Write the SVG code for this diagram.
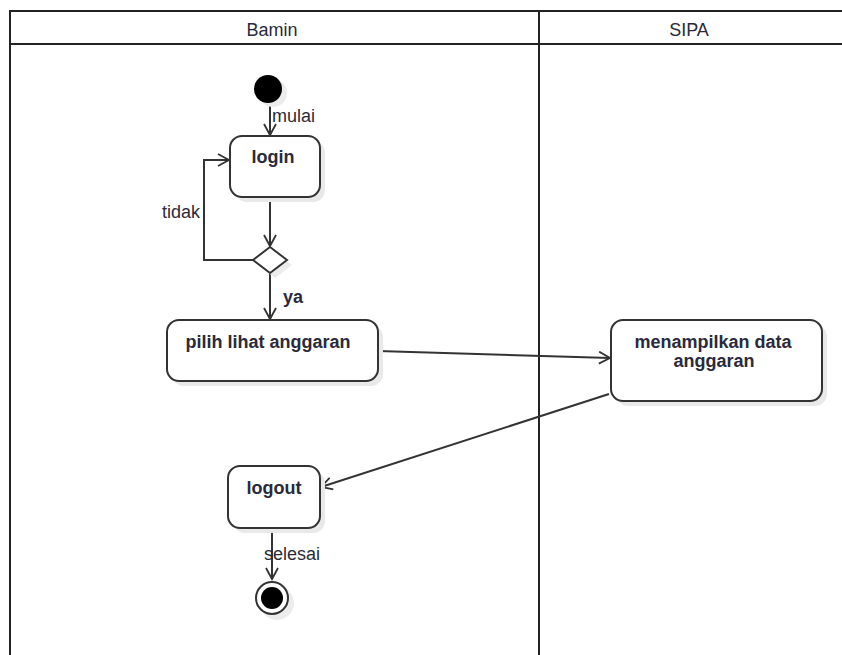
<svg xmlns="http://www.w3.org/2000/svg" width="842" height="655" viewBox="0 0 842 655">
<style>
.lane{fill:none;stroke:#222;stroke-width:2}
.box{fill:#fff;stroke:#333;stroke-width:2}
.sh{fill:#e9e9e9}
.t{font-family:"Liberation Sans",Arial,sans-serif;font-size:18px;fill:#2a2a3a}
.b{font-weight:bold}
.c{fill:none;stroke:#333;stroke-width:2}
.lbl{font-family:"Liberation Sans",Arial,sans-serif;font-size:18px;fill:#2a2a3a}
</style>
<defs>
<marker id="arr" markerWidth="14" markerHeight="14" refX="12" refY="7" orient="auto" markerUnits="userSpaceOnUse">
<path d="M1,1 L12,7 L1,13" fill="none" stroke="#333" stroke-width="1.8"/>
</marker>
</defs>
<rect width="842" height="655" fill="#fff"/>
<g id="swimlanes">
<rect class="lane" x="10" y="11" width="840" height="660"/>
<line class="lane" x1="10" y1="44" x2="842" y2="44"/>
<line class="lane" x1="539" y1="11" x2="539" y2="655"/>
<text class="t" x="272" y="36" text-anchor="middle">Bamin</text>
<text class="t" x="689" y="36" text-anchor="middle">SIPA</text>
</g>
<g id="connectors">
<line class="c" x1="270" y1="103" x2="270" y2="135" marker-end="url(#arr)"/>
<text class="lbl" x="272" y="122">mulai</text>
<line class="c" x1="270" y1="197" x2="270" y2="246" marker-end="url(#arr)"/>
<polyline class="c" points="253,260 204,260 204,160 229,160" marker-end="url(#arr)"/>
<text class="lbl" x="162" y="218">tidak</text>
<line class="c" x1="270" y1="273" x2="270" y2="319" marker-end="url(#arr)"/>
<text class="lbl" x="283" y="303" font-weight="bold">ya</text>
<line class="c" x1="378" y1="351" x2="610" y2="358" marker-end="url(#arr)"/>
<line class="c" x1="609" y1="394" x2="321" y2="487" marker-end="url(#arr)"/>
<line class="c" x1="272" y1="528" x2="272" y2="579" marker-end="url(#arr)"/>
<text class="lbl" x="264" y="560">selesai</text>
</g>
<g id="start">
<circle cx="273" cy="93" r="14" fill="#ececec"/>
<circle cx="268" cy="89" r="14" fill="#000"/>
</g>
<g id="login">
<rect class="sh" x="235" y="141" width="90" height="61" rx="12"/>
<rect class="box" x="230" y="136" width="90" height="61" rx="12"/>
<text class="t b" x="273" y="163" text-anchor="middle">login</text>
</g>
<g id="decision">
<polygon points="275,252 292,265 275,278 258,265" fill="#ececec"/>
<polygon points="270,247 287,260 270,273 253,260" fill="#fff" stroke="#333" stroke-width="2"/>
</g>
<g id="pilih">
<rect class="sh" x="172" y="325" width="211" height="61" rx="12"/>
<rect class="box" x="167" y="320" width="211" height="61" rx="12"/>
<text class="t b" x="268" y="348" text-anchor="middle">pilih lihat anggaran</text>
</g>
<g id="menampilkan">
<rect class="sh" x="616" y="325" width="211" height="81" rx="12"/>
<rect class="box" x="611" y="320" width="211" height="81" rx="12"/>
<text class="t b" x="713" y="348" text-anchor="middle">menampilkan data</text>
<text class="t b" x="714" y="367" text-anchor="middle">anggaran</text>
</g>
<g id="logout">
<rect class="sh" x="233" y="471" width="92" height="62" rx="12"/>
<rect class="box" x="228" y="466" width="92" height="62" rx="12"/>
<text class="t b" x="274" y="494" text-anchor="middle">logout</text>
</g>
<g id="end">
<circle cx="277" cy="603" r="17" fill="#ececec"/>
<circle cx="272" cy="598" r="16" fill="#fff" stroke="#333" stroke-width="2"/>
<circle cx="272" cy="598" r="11" fill="#000"/>
</g>
</svg>
